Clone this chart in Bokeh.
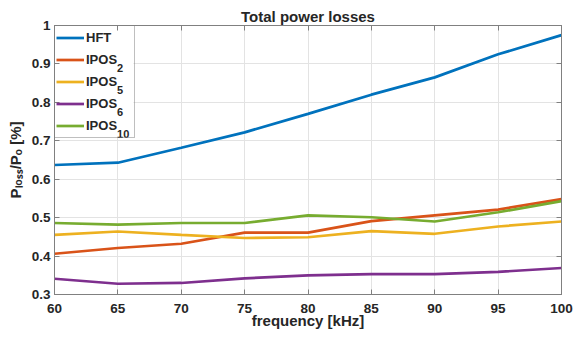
from bokeh.plotting import figure
from bokeh.models import (FixedTicker, CustomJSTickFormatter, Legend,
                          LegendItem, LinearAxis, Range1d)
from bokeh.core.properties import value
from bokeh.embed import file_html
from bokeh.resources import INLINE

# ---- data ----
freq = [60, 65, 70, 75, 80, 85, 90, 95, 100]
hft = [0.637, 0.643, 0.682, 0.722, 0.770, 0.820, 0.865, 0.925, 0.975]
ipos2 = [0.406, 0.421, 0.432, 0.461, 0.461, 0.491, 0.506, 0.521, 0.548]
ipos5 = [0.455, 0.464, 0.455, 0.447, 0.449, 0.465, 0.458, 0.477, 0.490]
ipos6 = [0.341, 0.328, 0.330, 0.342, 0.350, 0.353, 0.353, 0.359, 0.369]
ipos10 = [0.486, 0.482, 0.486, 0.486, 0.506, 0.501, 0.490, 0.514, 0.543]

series_main = ["HFT", "IPOS", "IPOS", "IPOS", "IPOS"]
series_sub = ["", "2", "5", "6", "10"]
series_values = [hft, ipos2, ipos5, ipos6, ipos10]
colors = ["#0072BD", "#D95319", "#EDB120", "#7E2F8E", "#77AC30"]

x_ticks = [60, 65, 70, 75, 80, 85, 90, 95, 100]
y_ticks = [0.3, 0.4, 0.5, 0.6, 0.7, 0.8, 0.9, 1.0]

title_text = "Total power losses"
x_label = "frequency [kHz]"
y_label = "P\u2097\u2092\u209b\u209b/P\u2092 [%]"

FONT = "Liberation Sans"
TXT = "#262626"
BOX = "#808080"

X0, X1, Y0, Y1 = 60, 100, 0.3, 1.0
W, H = 580, 332
FL, FT, FR, FB = 54, 25, 561, 294          # frame edges on canvas
frame_w = FR - FL
frame_h = FB - FT


def px_to_x(px):
    return X0 + px / frame_w * (X1 - X0)


def py_to_y(py):
    return Y1 - py / frame_h * (Y1 - Y0)


p = figure(width=W, height=H, output_backend="svg", toolbar_location=None,
           x_range=Range1d(X0, X1), y_range=Range1d(Y0, Y1),
           min_border_left=FL, min_border_right=W - FR,
           min_border_top=FT, min_border_bottom=H - FB)

p.background_fill_color = "white"
p.border_fill_color = "white"
p.outline_line_color = BOX
p.outline_line_width = 1

# legend geometry
PAD, ROW, SP, GW, STAND, LW = 1, 21, 1, 28, 2, 47
leg_w = PAD + GW + STAND + LW + PAD
leg_h = 2 * PAD + len(series_main) * ROW + (len(series_main) - 1) * SP

# opaque white backing of the legend box (hides the grid under the legend)
p.quad(left=[px_to_x(0)], right=[px_to_x(leg_w)], top=[py_to_y(0)], bottom=[py_to_y(leg_h)],
       fill_color="white", line_color=None)

renderers = []
for vals, col in zip(series_values, colors):
    renderers.append(p.line(freq, vals, line_color=col, line_width=2.7))

# title
p.title.text = title_text
p.title.align = "center"
p.title.text_font = FONT
p.title.text_font_style = "bold"
p.title.text_font_size = "15px"
p.title.text_color = TXT
p.title.standoff = 1

# axes
for ax, ticks in ((p.xaxis[0], x_ticks), (p.yaxis[0], y_ticks)):
    ax.ticker = FixedTicker(ticks=ticks)
    ax.major_tick_in = 5
    ax.major_tick_out = 0
    ax.minor_tick_line_color = None
    ax.axis_line_color = BOX
    ax.major_tick_line_color = BOX
    ax.major_label_text_font = FONT
    ax.major_label_text_font_style = "bold"
    ax.major_label_text_font_size = "13.5px"
    ax.major_label_text_color = TXT
    ax.axis_label_text_font = FONT
    ax.axis_label_text_font_style = "bold"
    ax.axis_label_text_font_size = "15px"
    ax.axis_label_text_color = TXT

p.yaxis[0].formatter = CustomJSTickFormatter(code="return tick.toFixed(1).replace(/\\.0$/, '')")
p.xaxis[0].major_label_standoff = 9
p.yaxis[0].major_label_standoff = 4
p.xaxis[0].axis_label = x_label
p.xaxis[0].axis_label_standoff = -4
p.yaxis[0].axis_label = y_label
p.yaxis[0].axis_label_standoff = 5

# box ticks on top and right (no labels drawn)
for side, ticks in (("above", x_ticks), ("right", y_ticks)):
    ax = LinearAxis(ticker=FixedTicker(ticks=ticks), major_label_text_font_size="1px",
                    major_label_text_color=None, major_tick_in=5, major_tick_out=0,
                    minor_tick_line_color=None, axis_line_color=BOX,
                    major_tick_line_color=BOX, major_label_standoff=0)
    p.add_layout(ax, side)

# grid
p.grid.grid_line_color = "#e3e3e3"
p.grid.grid_line_width = 1
p.xgrid.ticker = FixedTicker(ticks=x_ticks)
p.ygrid.ticker = FixedTicker(ticks=y_ticks)

# legend (transparent background; the white backing quad is below)
legend = Legend(items=[LegendItem(label=n, renderers=[r]) for n, r in zip(series_main, renderers)],
                location="top_left", margin=0, padding=PAD, spacing=SP,
                glyph_height=ROW, glyph_width=GW, label_height=ROW, label_standoff=STAND,
                label_width=LW,
                label_text_font=FONT, label_text_font_style="bold",
                label_text_font_size="13px", label_text_color=TXT,
                border_line_color=BOX, border_line_width=1,
                background_fill_alpha=0)
p.add_layout(legend)

# subscripts of the legend labels
ipos_w = 31.6
sub_txt, sub_x, sub_y = [], [], []
for i, sub in enumerate(series_sub):
    if not sub:
        continue
    row_center = PAD + ROW / 2 + i * (ROW + SP)       # px below frame top
    sub_txt.append(sub)
    sub_x.append(px_to_x(PAD + GW + STAND + ipos_w))
    sub_y.append(py_to_y(row_center + 8.5))
p.text(x=sub_x, y=sub_y, text=sub_txt, text_align="left", text_baseline="alphabetic",
       text_font=value(FONT), text_font_style="bold", text_font_size="11px",
       text_color=TXT)

open("out.html", "w").write(file_html(p, INLINE))
